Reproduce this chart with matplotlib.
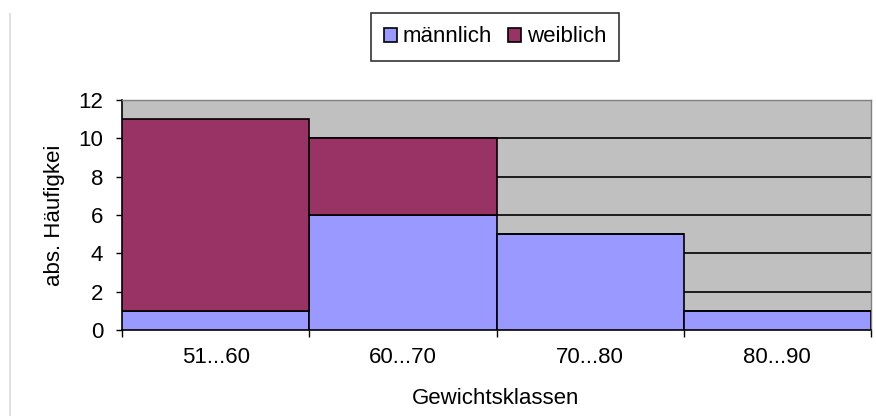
import numpy as np
import matplotlib
matplotlib.use('Agg')
import matplotlib.pyplot as plt
from matplotlib.lines import Line2D

plt.rcParams['font.family'] = ['Liberation Sans', 'DejaVu Sans']

categories = ['51...60', '60...70', '70...80', '80...90']
maennlich = [1, 6, 5, 1]
weiblich = [10, 4, 0, 0]
yticks = [0, 2, 4, 6, 8, 10, 12]

FS = 16

fig = plt.figure(figsize=(8.76, 4.16), dpi=100)
ax = fig.add_axes([122 / 876, 1 - 330 / 416, (871 - 122) / 876, (330 - 100) / 416])
ax.set_facecolor('#C0C0C0')

x = np.arange(len(categories))
ax.bar(x, maennlich, width=1.0, color='#9999FF', edgecolor='black',
       linewidth=1.2, label='männlich', zorder=3)
ax.bar(x, weiblich, width=1.0, bottom=maennlich, color='#993366',
       edgecolor='black', linewidth=1.2, label='weiblich', zorder=3)

# horizontal gridlines like Excel
for yv in yticks[1:-1]:
    ax.axhline(yv, color='black', linewidth=1.2, zorder=1)

ax.set_xlim(-0.5, len(categories) - 0.5)
ax.set_ylim(0, 12)
ax.set_yticks(yticks)
ax.set_yticklabels([str(v) for v in yticks], fontsize=FS)

# category ticks at boundaries, labels centred
ax.set_xticks(np.arange(len(categories) + 1) - 0.5)
ax.set_xticklabels([])
ax.set_xticks(x, minor=True)
ax.set_xticklabels(categories, minor=True, fontsize=FS)
ax.tick_params(axis='x', which='minor', length=0, pad=12)
ax.tick_params(axis='x', which='major', length=5, width=1, direction='out')
ax.tick_params(axis='y', length=4.5, width=1, direction='out', pad=9)

for side in ['top', 'right']:
    ax.spines[side].set_color('#808080')
    ax.spines[side].set_linewidth(1)
ax.spines['left'].set_linewidth(1.2)
ax.spines['bottom'].set_linewidth(1.2)

ax.set_ylabel('abs. Häufigkei', fontsize=FS)
ax.yaxis.set_label_coords(-0.076, 0.5)
ax.set_xlabel('Gewichtsklassen', fontsize=FS)
ax.xaxis.set_label_coords(0.499, -0.25)

leg = fig.legend(loc='center', bbox_to_anchor=(495 / 876, 1 - 37 / 416),
                 ncol=2, fontsize=FS, frameon=True, fancybox=False,
                 handlelength=0.6, handleheight=0.6, handletextpad=0.25,
                 columnspacing=0.7, borderpad=0.6, borderaxespad=0)
leg.get_frame().set_edgecolor('black')
leg.get_frame().set_linewidth(1.2)

# faint border line on the left of the picture
fig.add_artist(Line2D([10 / 876, 10 / 876], [0, 1 - 14 / 416],
                      color='#E0E0E0', linewidth=1.5))

fig.savefig('out.png', dpi=100, facecolor='white')
